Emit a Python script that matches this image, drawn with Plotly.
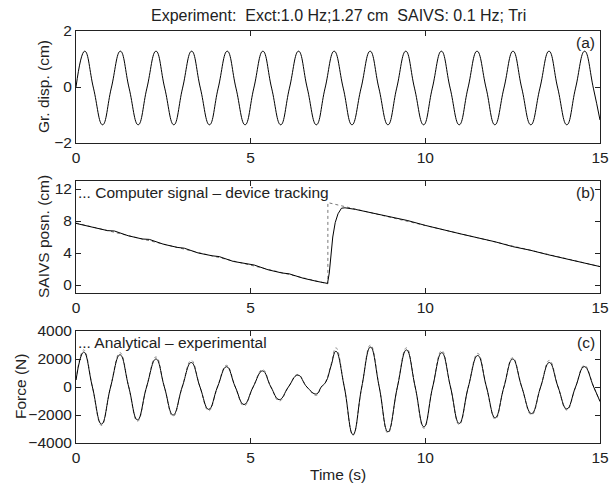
import plotly.graph_objects as go

# ---------------- data ----------------
# (a) ground displacement: extrema and zero crossings
a_time = [0.00, 0.25, 0.50, 0.76, 1.01, 1.27, 1.52, 1.78, 2.03, 2.29, 2.54, 2.80,
          3.05, 3.31, 3.56, 3.82, 4.07, 4.33, 4.58, 4.84, 5.09, 5.35, 5.60, 5.86,
          6.11, 6.37, 6.62, 6.88, 7.13, 7.39, 7.65, 7.90, 8.16, 8.42, 8.67, 8.93,
          9.18, 9.44, 9.69, 9.95, 10.20, 10.46, 10.71, 10.97, 11.22, 11.48, 11.74,
          11.99, 12.25, 12.51, 12.76, 13.02, 13.28, 13.54, 13.79, 14.05, 14.30,
          14.56, 14.81, 15.00]
a_disp = [0.0, 1.28, -0.04, -1.35, -0.04, 1.28, -0.04, -1.35, -0.04, 1.28, -0.04, -1.35,
          -0.04, 1.28, -0.04, -1.35, -0.04, 1.28, -0.04, -1.35, -0.04, 1.28, -0.04, -1.35,
          -0.04, 1.28, -0.04, -1.35, -0.04, 1.28, -0.04, -1.35, -0.04, 1.28, -0.04, -1.35,
          -0.04, 1.28, -0.04, -1.35, -0.04, 1.28, -0.04, -1.35, -0.04, 1.28, -0.04,
          -1.35, -0.04, 1.28, -0.04, -1.35, -0.04, 1.28, -0.04, -1.35, -0.04,
          1.28, -0.04, -1.18]

# (b) SAIVS position
b_sig_time = [0.0, 7.21, 7.21, 7.60, 15.0]
b_sig_pos = [7.75, 0.15, 10.3, 9.9, 2.3]
b_trk_time = [0.0, 0.5, 0.9, 1.1, 1.5, 1.9, 2.1, 2.5, 2.9, 3.1, 3.5, 3.9, 4.1, 4.5,
              4.9, 5.1, 5.5, 5.9, 6.1, 6.5, 6.9, 7.1, 7.2, 7.25, 7.3, 7.35, 7.42,
              7.5, 7.6, 7.7, 8.0, 8.5, 9.0, 9.5, 10.0, 10.5, 11.0, 11.5, 12.0,
              12.5, 13.0, 13.5, 14.0, 14.5, 15.0]
b_trk_pos = [7.7, 7.15, 6.8, 6.75, 6.15, 5.75, 5.7, 5.1, 4.7, 4.6, 4.0, 3.65, 3.55, 2.95,
             2.6, 2.5, 1.9, 1.5, 1.4, 0.85, 0.45, 0.25, 0.2, 1.5, 4.0, 6.0, 7.8,
             8.9, 9.6, 9.65, 9.45, 9.0, 8.5, 8.05, 7.45, 6.9, 6.4, 5.9, 5.4,
             4.8, 4.35, 3.8, 3.3, 2.8, 2.3]

# (c) force: extrema and zero crossings
c_time = [0.00, 0.22, 0.47, 0.73, 0.99, 1.26, 1.51, 1.76, 2.02, 2.29, 2.53, 2.78,
          3.04, 3.30, 3.55, 3.80, 4.05, 4.31, 4.56, 4.81, 5.07, 5.34, 5.58, 5.82,
          6.08, 6.35, 6.61, 6.88, 7.02, 7.15, 7.30, 7.44, 7.68, 7.93, 8.18, 8.43,
          8.68, 8.93, 9.20, 9.46, 9.71, 9.96, 10.21, 10.47, 10.72, 10.97, 11.23,
          11.50, 11.75, 12.00, 12.25, 12.50, 12.76, 13.04, 13.30, 13.55, 13.80,
          14.05, 14.30, 14.55, 14.82, 15.00]
c_exp = [500, 2500, 0, -2650, 0, 2300, 0, -2350, 0, 2000, 0, -2000,
         0, 1750, 0, -1600, 0, 1450, 0, -1250, 0, 1150, 0, -900,
         0, 850, 0, -500, 0, 350, 1500, 2550, 0, -3400, 0, 2850,
         0, -3200, 0, 2650, 0, -2850, 0, 2450, 0, -2600, 0,
         2250, 0, -2200, 0, 2000, 0, -1900, 0, 1750, 0,
         -1570, 0, 1460, 0, -1030]
c_ana = [500, 2650, 0, -2750, 0, 2450, 0, -2450, 0, 2150, 0, -2100,
         0, 1900, 0, -1700, 0, 1550, 0, -1350, 0, 1250, 0, -1000,
         0, 900, 0, -600, 0, 400, 1600, 2800, 0, -3450, 0, 3000,
         0, -3300, 0, 2800, 0, -2950, 0, 2600, 0, -2700, 0,
         2400, 0, -2300, 0, 2100, 0, -2000, 0, 1900, 0,
         -1650, 0, 1550, 0, -1050]

x_ticks = [0, 5, 10, 15]
a_yticks = [-2, 0, 2]
b_yticks = [0, 4, 8, 12]
c_yticks = [-4000, -2000, 0, 2000, 4000]

# ---------------- figure ----------------
FONT = "Liberation Sans, Arial, sans-serif"
FS = 15.5
INK = "#222222"
fig = go.Figure()

fig.add_trace(go.Scatter(x=a_time, y=a_disp, mode="lines", xaxis="x", yaxis="y",
                         line=dict(color="black", width=1, shape="spline", smoothing=1.3)))
fig.add_trace(go.Scatter(x=b_sig_time, y=b_sig_pos, mode="lines", xaxis="x2", yaxis="y2",
                         line=dict(color="#777777", width=1, dash="dot")))
fig.add_trace(go.Scatter(x=b_trk_time, y=b_trk_pos, mode="lines", xaxis="x2", yaxis="y2",
                         line=dict(color="black", width=1)))
fig.add_trace(go.Scatter(x=c_time, y=c_ana, mode="lines", xaxis="x3", yaxis="y3",
                         line=dict(color="#888888", width=1, dash="dot", shape="spline", smoothing=1.3)))
fig.add_trace(go.Scatter(x=c_time, y=c_exp, mode="lines", xaxis="x3", yaxis="y3",
                         line=dict(color="black", width=1, shape="spline", smoothing=1.3)))

H_PLOT = 412.0
dom_a = [300 / H_PLOT, 1.0]
dom_b = [150 / H_PLOT, 262 / H_PLOT]
dom_c = [0.0, 112 / H_PLOT]

axis_common = dict(showline=True, linecolor=INK, linewidth=1, mirror="ticks",
                   ticks="inside", ticklen=5, tickcolor=INK, showgrid=False,
                   zeroline=False, automargin=False,
                   tickfont=dict(size=FS, color=INK, family=FONT))

def xax(anchor):
    return dict(axis_common, range=[0, 15], tickvals=x_ticks, anchor=anchor)

fig.update_layout(
    width=612, height=486,
    margin=dict(l=76, r=12, t=31, b=43),
    paper_bgcolor="white", plot_bgcolor="white",
    showlegend=False,
    font=dict(family=FONT, size=FS, color=INK),
    xaxis=xax("y"),
    xaxis2=xax("y2"),
    xaxis3=xax("y3"),
    yaxis=dict(axis_common, domain=dom_a, range=[-2, 2], tickvals=a_yticks, anchor="x"),
    yaxis2=dict(axis_common, domain=dom_b, range=[-1, 13], tickvals=b_yticks, anchor="x2"),
    yaxis3=dict(axis_common, domain=dom_c, range=[-4000, 4000], tickvals=c_yticks, anchor="x3"),
)

txt = dict(showarrow=False, font=dict(size=FS, family=FONT, color=INK))

fig.add_annotation(text="Experiment:\u00a0\u00a0Exct:1.0 Hz;1.27 cm\u00a0\u00a0SAIVS: 0.1 Hz; Tri",
                   xref="paper", yref="paper", x=0.5, y=1.0, xanchor="center",
                   yanchor="middle", yshift=16, showarrow=False,
                   font=dict(size=16, family=FONT, color=INK))
fig.add_annotation(text="Time (s)", xref="paper", yref="paper", x=0.5, y=0.0,
                   xanchor="center", yanchor="middle", yshift=-31, **txt)
for label, yr, shift in (("Gr. disp. (cm)", "y", -33), ("SAIVS posn. (cm)", "y2", -32),
                         ("Force (N)", "y3", -56)):
    fig.add_annotation(text=label, xref="paper", yref=yr + " domain", x=0.0, y=0.5,
                       xanchor="center", yanchor="middle", xshift=shift, textangle=-90, **txt)
for lbl, yr in (("(a)", "y"), ("(b)", "y2"), ("(c)", "y3")):
    fig.add_annotation(text=lbl, xref=yr.replace("y", "x") + " domain", yref=yr + " domain",
                       x=0.995, y=0.99, xanchor="right", yanchor="top", **txt)
fig.add_annotation(text="... Computer signal \u2013 device tracking", xref="x2 domain",
                   yref="y2 domain", x=0.0, y=0.99, xanchor="left", yanchor="top", **txt)
fig.add_annotation(text="... Analytical \u2013 experimental", xref="x3 domain",
                   yref="y3 domain", x=0.0, y=0.99, xanchor="left", yanchor="top", **txt)

# remove the default 8 px page margin so the 612x486 figure fills the window exactly
fig.write_html("out.html", config={"displayModeBar": False},
               post_script="document.body.style.margin='0';document.body.style.overflow='hidden';")
